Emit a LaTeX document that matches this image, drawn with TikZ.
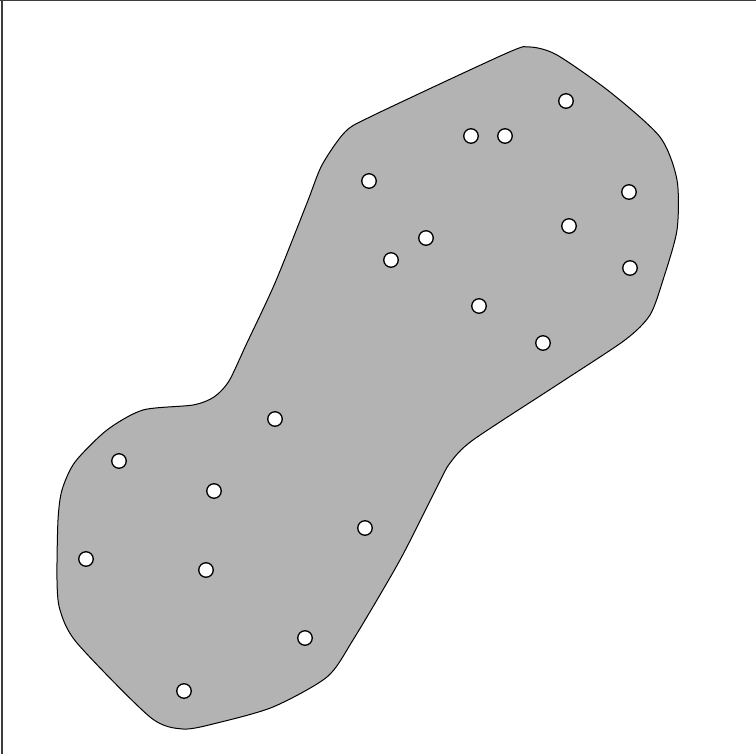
\documentclass[tikz,border=0pt]{standalone}
\definecolor{blobgray}{RGB}{179,179,179}
\definecolor{framegray}{RGB}{60,60,60}
\begin{document}
\begin{tikzpicture}[x=1pt,y=-1pt,
  dot/.style={circle,draw=black,fill=white,line width=1.3pt,minimum size=14.5pt,inner sep=0pt},
  blob/.style={draw=black,fill=blobgray,line width=1pt}]
\useasboundingbox (0,0) rectangle (756,754);
\draw[framegray,line width=2pt] (2,0) -- (2,754);
\draw[framegray,line width=1pt] (0,0.5) -- (756,0.5);
\draw[blob] plot[smooth cycle,tension=0.45] coordinates {
(530,47) (557,55) (610,92) (660,137) (677,180) (677,230) (663,280) (650,315)
(625,340) (560,383) (473,440) (450,463) (438,485) (400,560) (353,640) (327,677)
(273,707) (217,723) (183,729) (150,717) (77,643) (60,610) (57,580) (58,520)
(62,490) (75,462) (107,430) (143,410) (193,405) (214,397) (229,381) (246,345)
(275,283) (307,203) (322,165) (345,132) (372,116) (507,53)};
\node[dot] (p1) at (566,101) {};
\node[dot] (p2) at (471,136) {};
\node[dot] (p3) at (505,136) {};
\node[dot] (p4) at (369,181) {};
\node[dot] (p5) at (629,192) {};
\node[dot] (p6) at (569,226) {};
\node[dot] (p7) at (426,238) {};
\node[dot] (p8) at (391,260) {};
\node[dot] (p9) at (630,268) {};
\node[dot] (p10) at (479,306) {};
\node[dot] (p11) at (543,343) {};
\node[dot] (p12) at (275,419) {};
\node[dot] (p13) at (119,461) {};
\node[dot] (p14) at (214,491) {};
\node[dot] (p15) at (365,528) {};
\node[dot] (p16) at (86,559) {};
\node[dot] (p17) at (206,570) {};
\node[dot] (p18) at (305,638) {};
\node[dot] (p19) at (184,691) {};
\end{tikzpicture}
\end{document}
